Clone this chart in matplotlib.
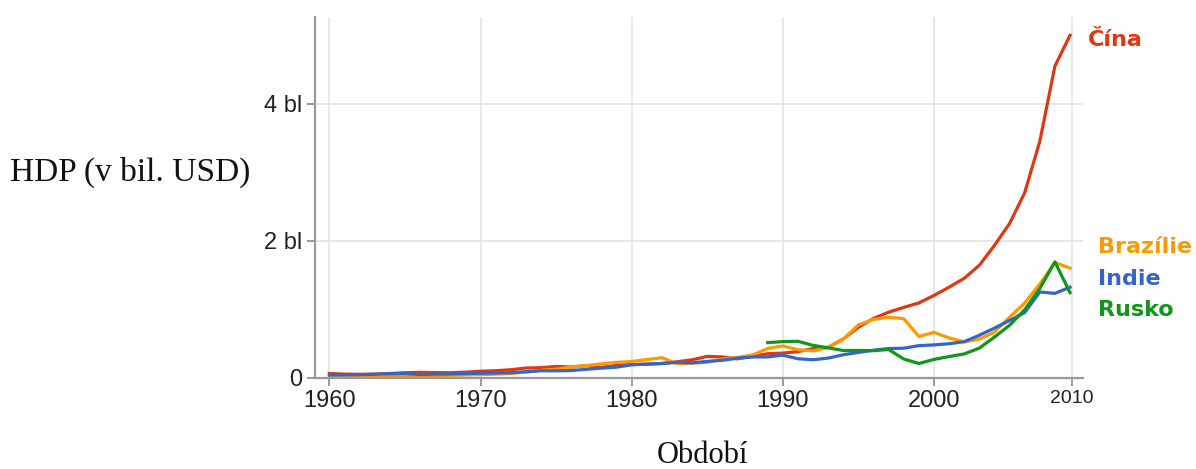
import numpy as np
import matplotlib.pyplot as plt
from matplotlib.transforms import blended_transform_factory

# GDP in trillions USD ("bl")
years = np.arange(1960, 2010)

china = [0.059, 0.050, 0.047, 0.050, 0.059, 0.070, 0.076, 0.072, 0.070, 0.079,
         0.092, 0.100, 0.114, 0.139, 0.144, 0.163, 0.154, 0.175, 0.149, 0.178,
         0.191, 0.196, 0.205, 0.230, 0.260, 0.309, 0.301, 0.273, 0.312, 0.348,
         0.357, 0.379, 0.423, 0.441, 0.564, 0.734, 0.864, 0.955, 1.025, 1.090,
         1.200, 1.320, 1.450, 1.640, 1.930, 2.250, 2.700, 3.450, 4.550, 5.000]

brazil = [0.015, 0.015, 0.020, 0.023, 0.021, 0.022, 0.027, 0.030, 0.033, 0.037,
          0.042, 0.049, 0.058, 0.080, 0.105, 0.123, 0.153, 0.176, 0.200, 0.222,
          0.235, 0.263, 0.290, 0.203, 0.209, 0.222, 0.268, 0.294, 0.330, 0.425,
          0.462, 0.407, 0.390, 0.438, 0.558, 0.770, 0.850, 0.880, 0.860, 0.600,
          0.660, 0.580, 0.520, 0.560, 0.664, 0.882, 1.089, 1.366, 1.680, 1.600]

india = [0.037, 0.039, 0.042, 0.048, 0.056, 0.059, 0.045, 0.050, 0.053, 0.058,
         0.062, 0.067, 0.071, 0.085, 0.099, 0.098, 0.102, 0.121, 0.137, 0.152,
         0.186, 0.196, 0.205, 0.222, 0.216, 0.236, 0.252, 0.283, 0.301, 0.301,
         0.327, 0.275, 0.260, 0.284, 0.333, 0.367, 0.400, 0.423, 0.429, 0.466,
         0.477, 0.494, 0.524, 0.618, 0.722, 0.834, 0.949, 1.250, 1.230, 1.320]

russia_years = np.arange(1989, 2010)
russia = [0.510, 0.525, 0.530, 0.470, 0.435, 0.395, 0.396, 0.392, 0.410, 0.271,
          0.205, 0.265, 0.307, 0.345, 0.430, 0.591, 0.764, 0.990, 1.300, 1.690,
          1.240]

names = ["Čína", "Brazílie", "Indie", "Rusko"]
colors = ["#dc3912", "#ff9900", "#3366cc", "#109618"]
xs_list = [years, years, years, russia_years]
ys_list = [china, brazil, india, russia]
# label placement (data y, figure pixel x)
label_y = [4.93, 1.91, 1.44, 0.98]
label_px = [1088, 1098, 1098, 1098]

x_ticks = [1960, 1970, 1980, 1990, 2000, 2009.1]
x_labels = ["1960", "1970", "1980", "1990", "2000", "2010"]
y_ticks = [0, 2, 4]
y_labels = ["0", "2 bl", "4 bl"]

fig = plt.figure(figsize=(11.96, 4.69), dpi=100)
ax = fig.add_axes([0.2634, 0.195, 0.642, 0.769])

for xs, ys, color in zip(xs_list, ys_list, colors):
    ax.plot(xs, ys, color=color, lw=2.3, solid_joinstyle="round")

ax.set_xlim(1959.05, 2009.85)
ax.set_ylim(0, 5.27)

ax.set_xticks(x_ticks)
ax.set_xticklabels(x_labels, fontsize=17, family="Liberation Sans")
ax.get_xticklabels()[-1].set_fontsize(14)
ax.set_yticks(y_ticks)
ax.set_yticklabels(y_labels, fontsize=17, family="Liberation Sans")

ax.grid(True, color="#e3e3e3", lw=1.2)
ax.set_axisbelow(True)
for s in ["top", "right"]:
    ax.spines[s].set_visible(False)
for s in ["left", "bottom"]:
    ax.spines[s].set_color("#999999")
    ax.spines[s].set_linewidth(1.6)
ax.tick_params(axis="both", colors="#999999", length=6, width=1.4,
               labelcolor="#222222", pad=3)

# series labels at right edge
trans = blended_transform_factory(fig.transFigure, ax.transData)
for name, color, ly, lx in zip(names, colors, label_y, label_px):
    ax.text(lx / 1196, ly, name, color=color, fontsize=16, fontweight="bold",
            family="DejaVu Sans", va="center", ha="left", transform=trans)

fig.text(10 / 1196, 1 - 172 / 469, "HDP (v bil. USD)", fontsize=24,
         family="Liberation Serif", color="#111111", va="center", ha="left")
fig.text(703 / 1196, 1 - 455 / 469, "Období", fontsize=22,
         family="Liberation Serif", color="#111111", va="center", ha="center")

fig.savefig("out.png", dpi=100)
